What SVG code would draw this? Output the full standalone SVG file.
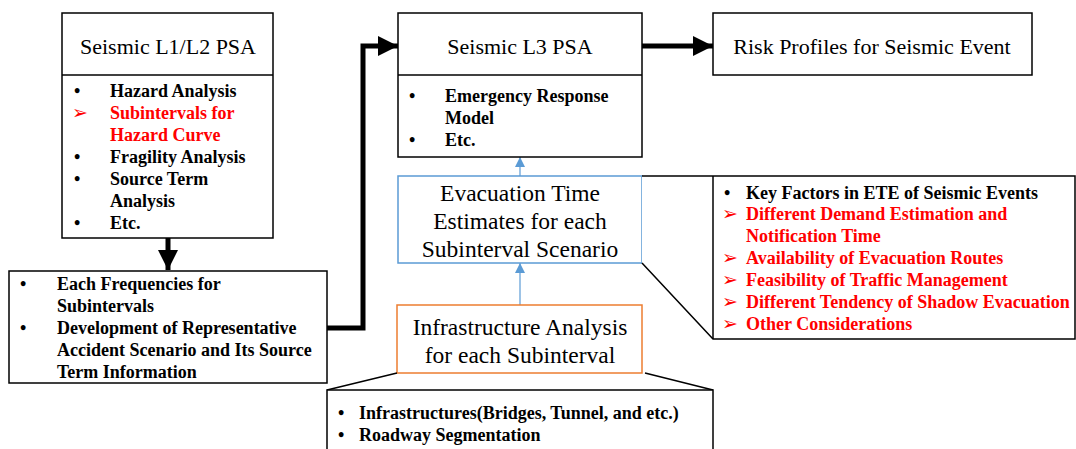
<svg xmlns="http://www.w3.org/2000/svg" width="1076" height="449" viewBox="0 0 1076 449">
<style>
.bx{fill:#fff;stroke:#000;stroke-width:1.5}
.ttl{font-family:'Liberation Serif','DejaVu Serif',serif;font-size:22px;fill:#000;text-anchor:middle}
.big{font-size:23.5px}
.it{font-family:'Liberation Serif','DejaVu Serif',serif;font-size:18px;font-weight:bold;fill:#000}
.red{fill:#f00}
.arr{font-family:'DejaVu Sans',sans-serif;font-size:19px;fill:#f00}
.thick{fill:none;stroke:#000;stroke-width:5}
.blue{fill:none;stroke:#5B9BD5;stroke-width:1.2}
</style>
<defs>
<marker id="ah" markerUnits="userSpaceOnUse" markerWidth="20" markerHeight="20" refX="20" refY="10" orient="auto"><path d="M0,0 L20,10 L0,20 z" fill="#000"/></marker>
<marker id="bh" markerUnits="userSpaceOnUse" markerWidth="10" markerHeight="10" refX="10" refY="5" orient="auto"><path d="M0,0 L10,5 L0,10 z" fill="#5B9BD5"/></marker>
</defs>
<rect width="1076" height="449" fill="#fff"/>
<g id="connectors">
<path class="thick" d="M168,238 V270" marker-end="url(#ah)"/>
<path class="thick" d="M327,328 H363 V46 H398" marker-end="url(#ah)"/>
<path class="thick" d="M642,46 H713" marker-end="url(#ah)"/>
<path class="blue" d="M520,176 V157" marker-end="url(#bh)"/>
<path class="blue" d="M520,305 V263" marker-end="url(#bh)"/>
</g>
<g id="n1">
<rect class="bx" x="62" y="13" width="211" height="225"/>
<line x1="62" y1="75" x2="273" y2="75" stroke="#000" stroke-width="1.5"/>
<text class="ttl" x="168" y="54">Seismic L1/L2 PSA</text>
<text class="it" x="74" y="97">•</text><text class="it" x="110" y="97">Hazard Analysis</text>
<text class="arr" x="72" y="119">➢</text><text class="it red" x="110" y="119">Subintervals for</text>
<text class="it red" x="110" y="141">Hazard Curve</text>
<text class="it" x="74" y="163">•</text><text class="it" x="110" y="163">Fragility Analysis</text>
<text class="it" x="74" y="185">•</text><text class="it" x="110" y="185">Source Term</text>
<text class="it" x="110" y="207">Analysis</text>
<text class="it" x="74" y="229">•</text><text class="it" x="110" y="229">Etc.</text>
</g>
<g id="n2">
<rect class="bx" x="9" y="271" width="318" height="112"/>
<text class="it" x="20" y="290">•</text><text class="it" x="57" y="290">Each Frequencies for</text>
<text class="it" x="57" y="312">Subintervals</text>
<text class="it" x="20" y="334">•</text><text class="it" x="57" y="334">Development of Representative</text>
<text class="it" x="57" y="356">Accident Scenario and Its Source</text>
<text class="it" x="57" y="378">Term Information</text>
</g>
<g id="n3">
<rect class="bx" x="398" y="13" width="244" height="144"/>
<line x1="398" y1="75" x2="642" y2="75" stroke="#000" stroke-width="1.5"/>
<text class="ttl" x="520" y="54">Seismic L3 PSA</text>
<text class="it" x="409" y="102">•</text><text class="it" x="445" y="102">Emergency Response</text>
<text class="it" x="445" y="124">Model</text>
<text class="it" x="409" y="146">•</text><text class="it" x="445" y="146">Etc.</text>
</g>
<g id="n4">
<rect class="bx" x="713" y="13" width="319" height="62"/>
<text class="ttl" x="872" y="54">Risk Profiles for Seismic Event</text>
</g>
<g id="n5">
<rect x="398" y="176" width="244" height="87" fill="#fff" stroke="#5B9BD5" stroke-width="1.5"/>
<text class="ttl big" x="520" y="201">Evacuation Time</text>
<text class="ttl big" x="520" y="229">Estimates for each</text>
<text class="ttl big" x="520" y="257">Subinterval Scenario</text>
</g>
<g id="n6">
<rect x="397" y="305" width="245" height="68" fill="#fff" stroke="#ED7D31" stroke-width="1.5"/>
<text class="ttl big" x="520" y="335">Infrastructure Analysis</text>
<text class="ttl big" x="520" y="363">for each Subinterval</text>
</g>
<g id="n7">
<path d="M397,373 L327,390 M645,373 L713,390" stroke="#000" stroke-width="1.5" fill="none"/>
<rect class="bx" x="327" y="390" width="386" height="70"/>
<text class="it" x="338" y="419">•</text><text class="it" x="359" y="419">Infrastructures(Bridges, Tunnel, and etc.)</text>
<text class="it" x="338" y="441">•</text><text class="it" x="359" y="441">Roadway Segmentation</text>
</g>
<g id="n8">
<path d="M642,176 H1075 V339 H713 L642,263" stroke="#000" stroke-width="1.5" fill="#fff"/>
<line x1="713" y1="176" x2="713" y2="339" stroke="#000" stroke-width="1.5"/>
<text class="it" x="724" y="199">•</text><text class="it" x="746" y="199">Key Factors in ETE of Seismic Events</text>
<text class="arr" x="722" y="220">➢</text><text class="it red" x="746" y="220">Different Demand Estimation and</text>
<text class="it red" x="746" y="242">Notification Time</text>
<text class="arr" x="722" y="264">➢</text><text class="it red" x="746" y="264">Availability of Evacuation Routes</text>
<text class="arr" x="722" y="286">➢</text><text class="it red" x="746" y="286">Feasibility of Traffic Management</text>
<text class="arr" x="722" y="308">➢</text><text class="it red" x="746" y="308">Different Tendency of Shadow Evacuation</text>
<text class="arr" x="722" y="330">➢</text><text class="it red" x="746" y="330">Other Considerations</text>
</g>
</svg>
